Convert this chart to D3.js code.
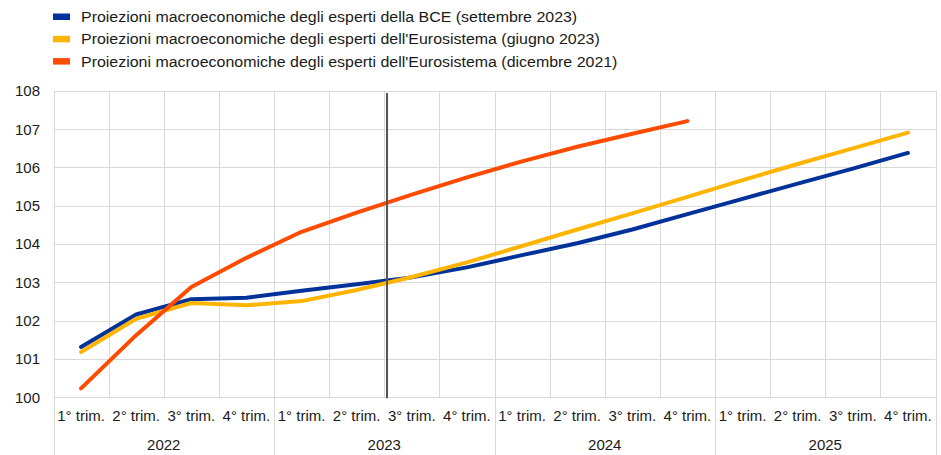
<!DOCTYPE html>
<html>
<head>
<meta charset="utf-8">
<script src="https://cdn.jsdelivr.net/npm/d3@7"></script>
<style>
  html, body { margin: 0; padding: 0; background: #fff; }
  svg { display: block; font-family: "Liberation Sans", Arial, sans-serif; }
</style>
</head>
<body>
<svg id="chart" width="941" height="455"></svg>
<script>
const years = ["2022", "2023", "2024", "2025"];
const quarterLabels = ["1° trim.", "2° trim.", "3° trim.", "4° trim."];
const yTicks = [100, 101, 102, 103, 104, 105, 106, 107, 108];

const seriesNames = [
  "Proiezioni macroeconomiche degli esperti della BCE (settembre 2023)",
  "Proiezioni macroeconomiche degli esperti dell'Eurosistema (giugno 2023)",
  "Proiezioni macroeconomiche degli esperti dell'Eurosistema (dicembre 2021)"
];
const seriesColors = ["#003299", "#ffb400", "#ff4b00"];

const bceSep2023 = [101.31, 102.16, 102.56, 102.60, 102.78, 102.95, 103.13, 103.39,
                    103.71, 104.02, 104.38, 104.78, 105.18, 105.58, 105.97, 106.38];
const eurosysJun2023 = [101.18, 102.05, 102.46, 102.40, 102.51, 102.80, 103.14, 103.52,
                        103.95, 104.38, 104.80, 105.23, 105.67, 106.09, 106.50, 106.91];
const eurosysDec2021 = [100.23, 101.62, 102.88, 103.64, 104.32, 104.82, 105.29, 105.74,
                        106.16, 106.54, 106.88, 107.21];

// position of the vertical marker line, in quarters from start of 2022
const markerQuarter = 6.05;

(function () {
const svg = d3.select("#chart");

const pLeft = 53.5, pRight = 935.5, pTop = 90.9, pBottom = 397.2, chartBottom = 455;
const textColor = "#1a1a1a";

const keys = [];
years.forEach(yr => quarterLabels.forEach((q, i) => keys.push(yr + "-" + i)));

const x = d3.scaleBand().domain(keys).range([pLeft, pRight]).paddingInner(0).paddingOuter(0);
const xLin = d3.scaleLinear().domain([0, keys.length]).range([pLeft, pRight]);
const y = d3.scaleLinear().domain([100, 108]).range([pBottom, pTop]);

const grid = svg.append("g");
grid.selectAll("line.h").data(yTicks).join("line")
  .attr("x1", pLeft).attr("x2", pRight)
  .attr("y1", d => Math.round(y(d)) + 0.5).attr("y2", d => Math.round(y(d)) + 0.5)
  .attr("stroke", "#d9d9d9").attr("stroke-width", 1);

const bounds = d3.range(keys.length + 1);
grid.selectAll("line.v").data(bounds).join("line")
  .attr("x1", d => Math.round(xLin(d)) + 0.5).attr("x2", d => Math.round(xLin(d)) + 0.5)
  .attr("y1", pTop)
  .attr("y2", d => (d % 4 === 0) ? chartBottom : pBottom + 1)
  .attr("stroke", "#d9d9d9").attr("stroke-width", 1);

svg.append("g").selectAll("text").data(yTicks).join("text")
  .attr("x", 40).attr("y", d => y(d)).attr("dy", "0.36em")
  .attr("text-anchor", "end")
  .attr("font-size", 15).attr("fill", textColor)
  .text(d => d);

svg.append("g").selectAll("text").data(keys).join("text")
  .attr("x", d => x(d) + x.bandwidth() / 2)
  .attr("y", 416).attr("dy", "0.36em")
  .attr("text-anchor", "middle").attr("font-size", 15).attr("fill", textColor)
  .text(d => quarterLabels[+d.split("-")[1]]);

svg.append("g").selectAll("text").data(years).join("text")
  .attr("x", d => (x(d + "-0") + x(d + "-3") + x.bandwidth()) / 2)
  .attr("y", 445).attr("dy", "0.36em")
  .attr("text-anchor", "middle").attr("font-size", 15).attr("fill", textColor)
  .text(d => d);

const seriesData = [bceSep2023, eurosysJun2023, eurosysDec2021];
const line = d3.line()
  .x((d, i) => x(keys[i]) + x.bandwidth() / 2)
  .y(d => y(d));

seriesData.forEach((s, si) => {
  svg.append("path")
    .datum(s)
    .attr("d", line)
    .attr("fill", "none")
    .attr("stroke", seriesColors[si])
    .attr("stroke-width", 4)
    .attr("stroke-linecap", "round")
    .attr("stroke-linejoin", "round");
});

svg.append("line")
  .attr("x1", xLin(markerQuarter)).attr("x2", xLin(markerQuarter))
  .attr("y1", pTop + 2).attr("y2", pBottom + 1)
  .attr("stroke", "#555").attr("stroke-width", 2);

const legend = svg.append("g");
seriesNames.forEach((name, i) => {
  const cy = 16.5 + i * 22.3;
  legend.append("rect")
    .attr("x", 53).attr("y", cy - 3).attr("width", 17).attr("height", 6.5)
    .attr("fill", seriesColors[i]);
  legend.append("text")
    .attr("transform", `translate(81,${cy}) scale(1.064,1)`)
    .attr("dy", "0.36em")
    .attr("font-size", 15).attr("fill", textColor)
    .text(name);
});
})();
</script>
</body>
</html>
